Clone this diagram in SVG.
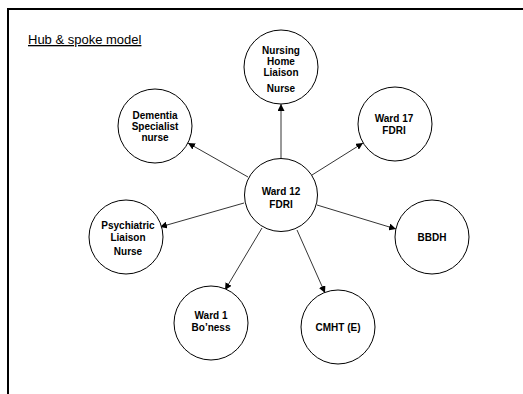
<svg xmlns="http://www.w3.org/2000/svg" width="523" height="394" viewBox="0 0 523 394">
<style>
.node circle{fill:#fff;stroke:#000;stroke-width:1}
.node text{font-family:"Liberation Sans",Arial,sans-serif;font-weight:bold;font-size:10px;text-anchor:middle;fill:#000}
.conn line{stroke:#000;stroke-width:0.8}
.title{font-family:"Liberation Sans",Arial,sans-serif;font-size:13px;fill:#000;text-decoration:underline}
</style>
<defs>
<marker id="ah" viewBox="0 0 10 10" refX="10" refY="5" markerWidth="7" markerHeight="7" markerUnits="userSpaceOnUse" orient="auto">
<path d="M0,0 L10,5 L0,10 z" fill="#000"/>
</marker>
</defs>
<rect width="523" height="394" fill="#fff"/>
<g id="frame" stroke="#000" stroke-width="2" fill="none">
<line x1="8" y1="9" x2="523" y2="9"/>
<line x1="8" y1="8" x2="8" y2="394"/>
</g>
<text class="title" x="28" y="44">Hub &amp; spoke model</text>
<g id="connectors" class="conn">
<line x1="281" y1="158" x2="281" y2="104" marker-end="url(#ah)"/>
<line x1="248" y1="177" x2="188" y2="143" marker-end="url(#ah)"/>
<line x1="312" y1="175" x2="363" y2="143" marker-end="url(#ah)"/>
<line x1="244" y1="203" x2="160" y2="227" marker-end="url(#ah)"/>
<line x1="317" y1="205" x2="396" y2="229" marker-end="url(#ah)"/>
<line x1="262" y1="228" x2="225" y2="290" marker-end="url(#ah)"/>
<line x1="297" y1="230" x2="325" y2="293" marker-end="url(#ah)"/>
</g>
<g id="hub" class="node">
<circle cx="281" cy="195" r="36.5"/>
<text x="281" y="195">Ward 12</text>
<text x="281" y="208">FDRI</text>
</g>
<g id="nursing-home" class="node">
<circle cx="281" cy="67" r="37"/>
<text x="281" y="54">Nursing</text>
<text x="281" y="65">Home</text>
<text x="281" y="76">Liaison</text>
<text x="281" y="92">Nurse</text>
</g>
<g id="dementia" class="node">
<circle cx="155" cy="126" r="37"/>
<text x="155" y="119">Dementia</text>
<text x="155" y="130">Specialist</text>
<text x="155" y="141">nurse</text>
</g>
<g id="ward17" class="node">
<circle cx="395" cy="124" r="37"/>
<text x="394" y="122">Ward 17</text>
<text x="394" y="134">FDRI</text>
</g>
<g id="psychiatric" class="node">
<circle cx="126" cy="237" r="37"/>
<text x="128" y="229">Psychiatric</text>
<text x="128" y="241">Liaison</text>
<text x="128" y="255">Nurse</text>
</g>
<g id="bbdh" class="node">
<circle cx="432" cy="237" r="37"/>
<text x="432" y="241">BBDH</text>
</g>
<g id="ward1" class="node">
<circle cx="211" cy="323" r="37"/>
<text x="211" y="319">Ward 1</text>
<text x="211" y="331">Bo’ness</text>
</g>
<g id="cmht" class="node">
<circle cx="338" cy="327" r="37"/>
<text x="338" y="331">CMHT (E)</text>
</g>
</svg>
